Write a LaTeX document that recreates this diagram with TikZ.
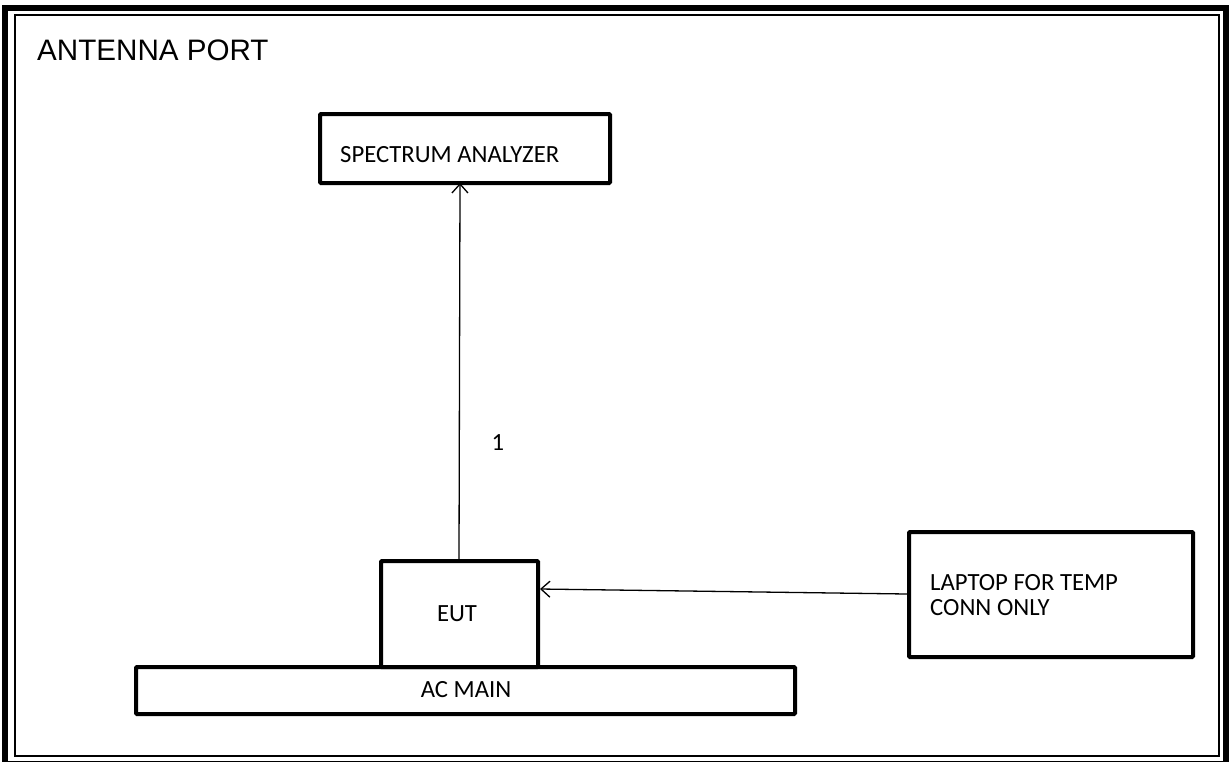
\documentclass[tikz,border=0pt]{standalone}
\usepackage{fontspec}
\setmainfont{Carlito}
\newfontfamily\arialfont{Liberation Sans}
\usetikzlibrary{arrows.meta}
\begin{document}
\begin{tikzpicture}[x=1pt,y=-1pt,
  box/.style={draw,line width=4pt,rounded corners=1pt},
  lbl/.style={font=\fontsize{24.7}{29}\selectfont,inner sep=0pt},
  conn/.style={line width=1.3pt,-{Straight Barb[length=9pt,width=16pt,line width=1.3pt]}}]
\useasboundingbox (0,0) rectangle (1231,761);
% page border
\draw[line width=6pt] (5,8) rectangle (1226,764);
\draw[line width=2pt] (14.5,15) rectangle (1219,755.5);
\node[anchor=west,inner sep=0pt,font=\arialfont\fontsize{29.6}{34}\selectfont] (title) at (37,50) {ANTENNA PORT};
% boxes
\draw[box] (320,114) rectangle (610,183);
\node[lbl,anchor=west] (sa) at (340,155) {SPECTRUM ANALYZER};
\coordinate (saB) at (460,183);
\draw[box] (136,667) rectangle (795,714);
\node[lbl] (ac) at (466,690) {AC MAIN};
\draw[box] (381,561) rectangle (538,667);
\node[lbl] (eut) at (457,614) {EUT};
\coordinate (eutT) at (459,559);
\coordinate (eutR) at (540,589);
\draw[box] (909,532) rectangle (1193,657);
\node[lbl,anchor=west] (lap1) at (930,583) {LAPTOP FOR TEMP};
\node[lbl,anchor=west] (lap2) at (930,608) {CONN ONLY};
\coordinate (lapL) at (907,594);
% connectors
\draw[conn] (eutT) -- (saB);
\draw[conn] (lapL) -- (eutR);
\node[lbl] (one) at (498,443) {1};
\end{tikzpicture}
\end{document}
